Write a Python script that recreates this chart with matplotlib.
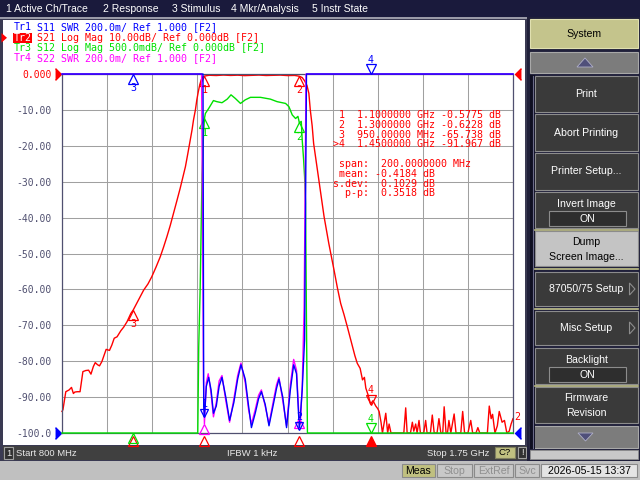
import numpy as np
import matplotlib
matplotlib.use("Agg")
import matplotlib.pyplot as plt
from matplotlib.patches import Rectangle, Polygon
from matplotlib.transforms import offset_copy

# sweep and scale settings (from the screen)
f_start, f_stop = 800.0, 1750.0      # MHz
s21_ref, s21_div = 0.0, 10.0         # dB, ref at top
s12_ref, s12_div = 0.0, 0.5          # dB, ref at top
swr_ref, swr_div = 1.0, 0.2          # ref at bottom

# Tr2 S21 log mag (dB)
s21_f = [800, 802, 808, 815, 820, 824, 827, 832, 838, 844, 850, 856, 861, 866, 870,
         875, 879, 884, 893, 900, 905, 910, 916, 924, 930, 937, 945, 950, 961, 972,
         981, 989, 998, 1007, 1014, 1021, 1028, 1035, 1042, 1049, 1055, 1060, 1065,
         1070, 1074, 1077, 1081, 1084, 1087, 1090, 1093, 1096, 1100, 1110, 1125, 1140,
         1155, 1170, 1185, 1200, 1215, 1230, 1245, 1260, 1275, 1290, 1300, 1306, 1311,
         1316, 1320, 1323, 1327, 1330, 1334, 1338, 1345, 1352, 1362, 1373, 1380, 1387,
         1394, 1401, 1412, 1417, 1422, 1428, 1433, 1437, 1440, 1445, 1450, 1455, 1461,
         1465, 1468, 1472, 1475, 1482, 1486, 1489, 1493, 1520, 1524, 1527, 1534, 1538,
         1541, 1545, 1548, 1552, 1555, 1562, 1566, 1569, 1576, 1580, 1584, 1590, 1594,
         1598, 1602, 1605, 1609, 1612, 1615, 1619, 1623, 1626, 1630, 1640, 1644, 1648,
         1655, 1661, 1665, 1672, 1676, 1680, 1696, 1700, 1704, 1707, 1712, 1717, 1721,
         1727, 1732, 1737, 1742, 1746, 1750]
s21_db = [-94.0, -93.5, -88.5, -88.0, -87.3, -89.0, -88.6, -88.5, -88.5, -82.9, -82.6,
          -82.5, -83.6, -81.5, -80.4, -81.0, -81.3, -80.1, -76.7, -77.0, -75.5, -73.6,
          -73.2, -71.5, -70.5, -69.0, -66.7, -65.74, -63.0, -60.2, -58.5, -56.5, -53.8,
          -50.9, -48.2, -45.3, -42.2, -38.8, -35.3, -31.8, -28.5, -25.8, -22.2, -18.4,
          -15.5, -12.8, -10.0, -7.2, -5.0, -3.1, -1.7, -0.9, -0.5775, -0.35, -0.42,
          -0.30, -0.40, -0.33, -0.45, -0.36, -0.30, -0.42, -0.35, -0.31, -0.44, -0.40,
          -0.6228, -1.0, -1.9, -3.2, -5.4, -10.0, -14.5, -19.3, -23.0, -26.7, -33.2,
          -39.7, -47.2, -54.6, -59.5, -63.9, -67.0, -70.4, -76.0, -78.5, -80.6, -82.0,
          -85.2, -84.5, -87.5, -89.5, -91.967, -91.0, -92.5, -93.2, -94.0, -97.0, -100,
          -94.5, -100, -97.5, -100, -100, -93.0, -100, -100, -97.0, -99.5, -97.5, -100,
          -96.5, -100, -100, -96.5, -100, -100, -95.0, -100, -100, -96.0, -100, -100,
          -92.7, -100, -100, -96.5, -100, -97.0, -94.7, -100, -100, -94.0, -100, -100,
          -96.5, -100, -100, -98.5, -100, -100, -92.5, -96.0, -94.8, -100, -98.0, -94.0,
          -97.0, -96.5, -100, -99.5, -97.5, -96.0]

# Tr3 S12 log mag (dB)
s12_f = [800, 950, 1050, 1080, 1086, 1088, 1091, 1093, 1095, 1098, 1100, 1102, 1109,
         1119, 1126, 1137, 1148, 1156, 1165, 1176, 1186, 1197, 1218, 1239, 1253, 1271,
         1278, 1285, 1292, 1297, 1300, 1304, 1306, 1309, 1311, 1313, 1315, 1317, 1330,
         1450, 1750]
s12_db = [-94, -66, -32, -12, -6.0, -3.8, -3.0, -2.2, -1.4, -0.85, -0.62, -0.55, -0.48,
          -0.37, -0.385, -0.40, -0.35, -0.29, -0.34, -0.41, -0.36, -0.325, -0.325, -0.35,
          -0.385, -0.41, -0.455, -0.57, -0.62, -0.59, -0.68, -0.66, -0.92, -1.2, -1.43,
          -1.8, -3.5, -6.0, -19, -92, -96]

# Tr1 S11 SWR
s11_f = [800, 1090, 1097, 1098.5, 1100, 1104, 1109, 1114, 1119, 1125, 1131, 1137, 1145,
         1153, 1162, 1170, 1177, 1186, 1193, 1199, 1207, 1214, 1220, 1228, 1236, 1246,
         1252, 1257, 1265, 1273, 1281, 1288, 1294, 1299, 1300, 1306, 1311, 1315, 1320,
         1750]
s11_swr = [40, 25, 4.0, 1.15, 1.09, 1.26, 1.31, 1.24, 1.11, 1.15, 1.26, 1.31, 1.20, 1.07,
           1.17, 1.30, 1.38, 1.30, 1.15, 1.03, 1.11, 1.19, 1.23, 1.16, 1.04, 1.17, 1.25,
           1.30, 1.20, 1.03, 1.24, 1.38, 1.33, 1.07, 1.02, 1.24, 1.52, 4.0, 20, 40]

# Tr4 S22 SWR
s22_f = [800, 1090, 1094, 1096, 1098, 1100, 1104, 1108, 1114, 1119, 1125, 1131, 1137,
         1145, 1153, 1162, 1170, 1177, 1186, 1193, 1199, 1207, 1214, 1220, 1228, 1236,
         1246, 1252, 1257, 1265, 1273, 1281, 1288, 1294, 1299, 1302, 1306, 1310, 1312,
         1314, 1320, 1750]
s22_swr = [40, 25, 4.0, 2.2, 1.3, 1.05, 1.28, 1.33, 1.22, 1.09, 1.17, 1.29, 1.32, 1.18,
           1.06, 1.19, 1.32, 1.39, 1.28, 1.13, 1.05, 1.13, 1.21, 1.24, 1.15, 1.05, 1.19,
           1.27, 1.31, 1.18, 1.04, 1.27, 1.41, 1.35, 1.10, 1.05, 1.26, 1.7, 2.3, 4.0,
           20, 40]

# markers
mk_f = [1100, 1300, 950, 1450]
mk_s21 = [-0.5775, -0.6228, -65.738, -91.967]
mk_s12 = [-0.62, -0.68, -66.0, -92.0]
mk_s11 = [1.09, 1.02, 30.0, 30.0]
mk_s22 = [1.05, 1.08, 30.0, 30.0]
mk_active = 3

# bandwidth statistics
stat_span, stat_mean, stat_sdev, stat_pp = 200.0, -0.4184, 0.1029, 0.3518

menu_items = ['1 Active Ch/Trace', '2 Response', '3 Stimulus', '4 Mkr/Analysis', '5 Instr State']
menu_x = [6, 103, 172, 231, 312]

RED, BLUE, GREEN, MAG = '#ff0000', '#0000ff', '#00e000', '#ff00ff'
MONO = 'DejaVu Sans Mono'
SANS = 'Liberation Sans'
CHAR_W = 0.602 * 7.2 * 100 / 72   # mono char width in px
W, H = 640, 480

fig = plt.figure(figsize=(6.4, 4.8), dpi=100)
fig.patch.set_facecolor('#22223a')


def box(x0, y0, x1, y1):
    return [x0 / W, 1 - y1 / H, (x1 - x0) / W, (y1 - y0) / H]


bg = fig.add_axes([0, 0, 1, 1], zorder=0)
bg.set_xlim(0, W)
bg.set_ylim(H, 0)
bg.axis('off')


def rect(x0, y0, x1, y1, fc, ec='none', lw=1.0):
    bg.add_patch(Rectangle((x0, y0), x1 - x0, y1 - y0, fc=fc, ec=ec, lw=lw))


def txt(x, y, s, color='white', size=7.6, ha='center', family=SANS, **kw):
    bg.text(x, y, s, color=color, fontsize=size, ha=ha, va='center', family=family, **kw)


# menu bar
rect(0, 0, 640, 17, '#1a1a3c')
for s, x in zip(menu_items, menu_x):
    txt(x, 9, s, ha='left', size=7.5)
rect(0, 17, 640, 19, '#9a9aa8')

# chart window
rect(0, 19, 527, 461, '#3a3a52')
rect(3, 20, 525, 445, 'white')
rect(3, 446, 527, 460, '#404040')
rect(4, 447, 13, 459, '#303030', ec='#a0a0a0', lw=0.8)
txt(8.5, 453, '1', size=6.8, color='#e8e8e8')
txt(16, 453, 'Start 800 MHz', ha='left', size=6.8, color='#e8e8e8')
txt(252, 453, 'IFBW 1 kHz', size=6.8, color='#e8e8e8')
txt(489, 453, 'Stop 1.75 GHz', ha='right', size=6.8, color='#e8e8e8')
rect(495, 447, 515, 458, '#c0c080', ec='#808060', lw=0.8)
txt(505, 452.5, 'C?', size=6.8, color='black')
rect(518, 447, 526, 458, '#303030', ec='#a0a0a0', lw=0.8)
txt(522, 452.5, '!', size=6.8)

# bottom bar
rect(0, 461, 640, 480, '#c0c0c0')
for (x0, x1, s, fc, tc) in [(402, 435, 'Meas', '#c0c080', 'black'),
                           (437, 472, 'Stop', '#c8c8c8', '#909090'),
                           (474, 513, 'ExtRef', '#c8c8c8', '#909090'),
                           (515, 539, 'Svc', '#c8c8c8', '#909090'),
                           (541, 637, '2026-05-15 13:37', '#e4e4e4', 'black')]:
    rect(x0, 464, x1, 477, fc, ec='#8a8a8a', lw=0.8)
    txt((x0 + x1) / 2, 470.5, s, color=tc, size=7.6)

# softkey panel
rect(527, 17, 640, 461, '#20203a')
rect(530, 19, 638, 48, '#c4c48c', ec='#e0e0b0', lw=0.8)
txt(584, 34, 'System', color='black')
for y0, y1, up in [(52, 73, True), (426, 448, False)]:
    rect(530, y0, 638, y1, '#7c7c7c', ec='#a8a8a8', lw=0.8)
    cy = (y0 + y1) / 2
    pts = [(577, cy + 4.5), (593, cy + 4.5), (585, cy - 4.5)] if up else \
          [(578, cy - 4), (593, cy - 4), (585.5, cy + 4)]
    bg.add_patch(Polygon(pts, closed=True, fc='#50507a', ec='#b0b0c8', lw=0.6))
rect(530, 75, 535, 449, '#101022')
bg.plot([532.5, 532.5], [76, 448], color='#6a6a88', lw=0.8)
rect(530, 450, 638, 459, '#c8c8c8', ec='#909090', lw=0.6)

keys = [(76, 112, ['Print'], None),
        (114, 151, ['Abort Printing'], None),
        (153, 190, ['Printer Setup...'], None),
        (192, 228, ['Invert Image'], 'ON'),
        (231, 266, ['Dump', 'Screen Image...'], None),
        (272, 306, ['87050/75 Setup'], '>'),
        (311, 345, ['Misc Setup'], '>'),
        (348, 384, ['Backlight'], 'ON'),
        (387, 423, ['Firmware', 'Revision'], None)]
for y0, y1, lines, extra in keys:
    light = lines[0] == 'Dump'
    rect(535, y0, 638, y1, '#c4c4c4' if light else '#3a3a3a', ec='#8c8c8c', lw=0.8)
    col = 'black' if light else 'white'
    if extra == 'ON':
        txt(586.5, y0 + 12, lines[0], color=col)
        rect(549, y0 + 19, 626, y0 + 34, '#2e2e2e', ec='#8c8c8c', lw=0.8)
        txt(587.5, y0 + 26.5, 'ON', color=col)
    elif len(lines) == 2:
        txt(586.5, y0 + 11, lines[0], color=col)
        txt(586.5, y0 + 26, lines[1], color=col)
    else:
        txt(586.5, (y0 + y1) / 2, lines[0], color=col)
    if extra == '>':
        cy = (y0 + y1) / 2
        bg.add_patch(Polygon([(629.5, cy - 6), (629.5, cy + 6), (635, cy)], closed=True,
                             fc='none', ec='#8c8c8c', lw=0.8))
for y in [229.5, 268.5, 308.5, 385.5]:
    bg.plot([535, 638], [y, y], color='#c4c48c', lw=1.2)

# trace header lines
hdr = [("Tr1", f" S11 SWR {swr_div * 1000:.1f}m/ Ref {swr_ref:.3f} [F2]", BLUE),
       ("Tr2", f" S21 Log Mag {s21_div:.2f}dB/ Ref {s21_ref:.3f}dB [F2]", RED),
       ("Tr3", f" S12 Log Mag {s12_div * 1000:.1f}mdB/ Ref {s12_ref:.3f}dB [F2]", GREEN),
       ("Tr4", f" S22 SWR {swr_div * 1000:.1f}m/ Ref {swr_ref:.3f} [F2]", MAG)]
for i, (name, rest, c) in enumerate(hdr):
    y = 27.5 + 10.3 * i
    active = name == 'Tr2'
    if active:
        rect(12.5, y - 4.5, 31.5, y + 4.7, RED)
        bg.add_patch(Polygon([(1.5, y - 4.8), (1.5, y + 4.8), (7, y)], closed=True,
                             fc=RED, ec='none'))
    txt(13.3, y, name, color='white' if active else c, size=7.2, ha='left', family=MONO)
    txt(13.3 + 3 * CHAR_W, y, rest, color=c, size=7.2, ha='left', family=MONO)

# ---- graticule and traces
ax = fig.add_axes(box(62, 74, 513, 433), zorder=2)
ax.set_facecolor('none')
ax.set_xlim(f_start, f_stop)
ax.set_ylim(s21_ref - 10 * s21_div, s21_ref)
ax.set_xticks(np.linspace(f_start, f_stop, 11))
ax.set_xticklabels([])
yt = np.linspace(s21_ref - 10 * s21_div, s21_ref, 11)
ax.set_yticks(yt)
ax.set_yticklabels([f"{v:.3f}"[:6] for v in yt], family=MONO, fontsize=7.0, color='#505070')
ax.get_yticklabels()[-1].set_color(RED)
ax.tick_params(length=0, pad=7.6)
ax.grid(True, color='#a0a0a0', lw=0.75)
ax.set_axisbelow(True)
for sp in ax.spines.values():
    sp.set_color('#505070')
    sp.set_linewidth(0.9)

ax_g = ax.twinx()
ax_g.set_zorder(3)
ax_g.set_ylim(s12_ref - 10 * s12_div, s12_ref)
ax_g.axis('off')
ax_s = ax.twinx()
ax_s.set_zorder(4)
ax_s.set_ylim(swr_ref, swr_ref + 10 * swr_div)
ax_s.axis('off')


def trace(axis, f, v, color):
    lo, hi = axis.get_ylim()
    axis.plot(f, np.clip(v, lo, hi), color=color, lw=1.0, clip_on=False)


trace(ax, s21_f, s21_db, RED)
trace(ax_g, s12_f, s12_db, GREEN)
trace(ax_s, s22_f, s22_swr, MAG)
trace(ax_s, s11_f, s11_swr, BLUE)


def put_marker(axis, f, v, color, pos, label=None, filled=False, ms=6.5):
    lo, hi = axis.get_ylim()
    v = float(np.clip(v, lo, hi))
    h = ms * fig.dpi / 72.0
    sgn = -1 if pos == 'b' else 1
    tr = offset_copy(axis.transData, fig=fig, y=sgn * h / 2, units='dots')
    axis.plot([f], [v], '^' if pos == 'b' else 'v', transform=tr, ms=ms, mec=color,
              mfc=color if filled else 'none', mew=0.9, clip_on=False)
    if label:
        trl = offset_copy(axis.transData, fig=fig, y=sgn * (h + 5), units='dots')
        axis.text(f, v, label, transform=trl, color=color, ha='center', va='center',
                  family=MONO, fontsize=7.2, clip_on=False)


for i, f in enumerate(mk_f):
    n = str(i + 1)
    put_marker(ax, f, mk_s21[i], RED, 'a' if i == 3 else 'b', n)
    if i < 2:
        put_marker(ax_g, f, mk_s12[i], GREEN, 'b', n)
        put_marker(ax_s, f, mk_s22[i], MAG, 'b')
        put_marker(ax_s, f, mk_s11[i], BLUE, 'a', n, ms=5.5)
    elif i == 2:
        put_marker(ax_g, f, mk_s12[i], GREEN, 'b')
        put_marker(ax_s, f, mk_s11[i], BLUE, 'b', n)
    else:
        put_marker(ax_g, f, mk_s12[i], GREEN, 'a', n)
        put_marker(ax_s, f, mk_s11[i], BLUE, 'a', n)
    # stimulus markers under the graticule
    trs = offset_copy(ax.get_xaxis_transform(), fig=fig, y=-8, units='dots')
    ax.plot([f], [0], '^', transform=trs, ms=6.5, mec=RED, mew=0.9,
            mfc=RED if i == mk_active else 'none', clip_on=False)

# reference position arrows
tri_r = [(-0.5, 1), (0.5, 0), (-0.5, -1)]
tri_l = [(0.5, 1), (-0.5, 0), (0.5, -1)]
for axis, ref, col in [(ax, s21_ref, RED), (ax_s, swr_ref, BLUE)]:
    ax.plot([0], [ref], marker=tri_r, ms=8.5, color=col, clip_on=False,
            transform=offset_copy(axis.get_yaxis_transform(), fig=fig, x=-4, units='dots'))
    ax.plot([1], [ref], marker=tri_l, ms=8.5, color=col, clip_on=False,
            transform=offset_copy(axis.get_yaxis_transform(), fig=fig, x=5, units='dots'))
txt(517.5, 416.5, '2', color=RED, size=7.2, family=MONO)


# ---- marker readout
def fmt_freq(f):
    return f"{f / 1000:.7f} GHz" if f >= 1000 else f"{f:.5f} MHz"


rows = []
for i, (f, v) in enumerate(zip(mk_f, mk_s21)):
    val = f"{v:.4f}" if abs(v) < 10 else f"{v:.3f}"
    rows.append(f"{'>' if i == mk_active else ' '}{i + 1}  {fmt_freq(f)} {val} dB")
rows.append('')
rows.append(f" span:  {stat_span:.7f} MHz")
rows.append(f" mean: {stat_mean:.4f} dB")
rows.append(f"s.dev:  {stat_sdev:.4f} dB")
rows.append(f"  p-p:  {stat_pp:.4f} dB")
for k, s in enumerate(rows):
    fig.text(333, 115 + 9.8 * k, s, transform=bg.transData, color=RED, fontsize=7.2,
             family=MONO, ha='left', va='center', zorder=10)

fig.savefig('out.png', dpi=100, facecolor=fig.get_facecolor())
